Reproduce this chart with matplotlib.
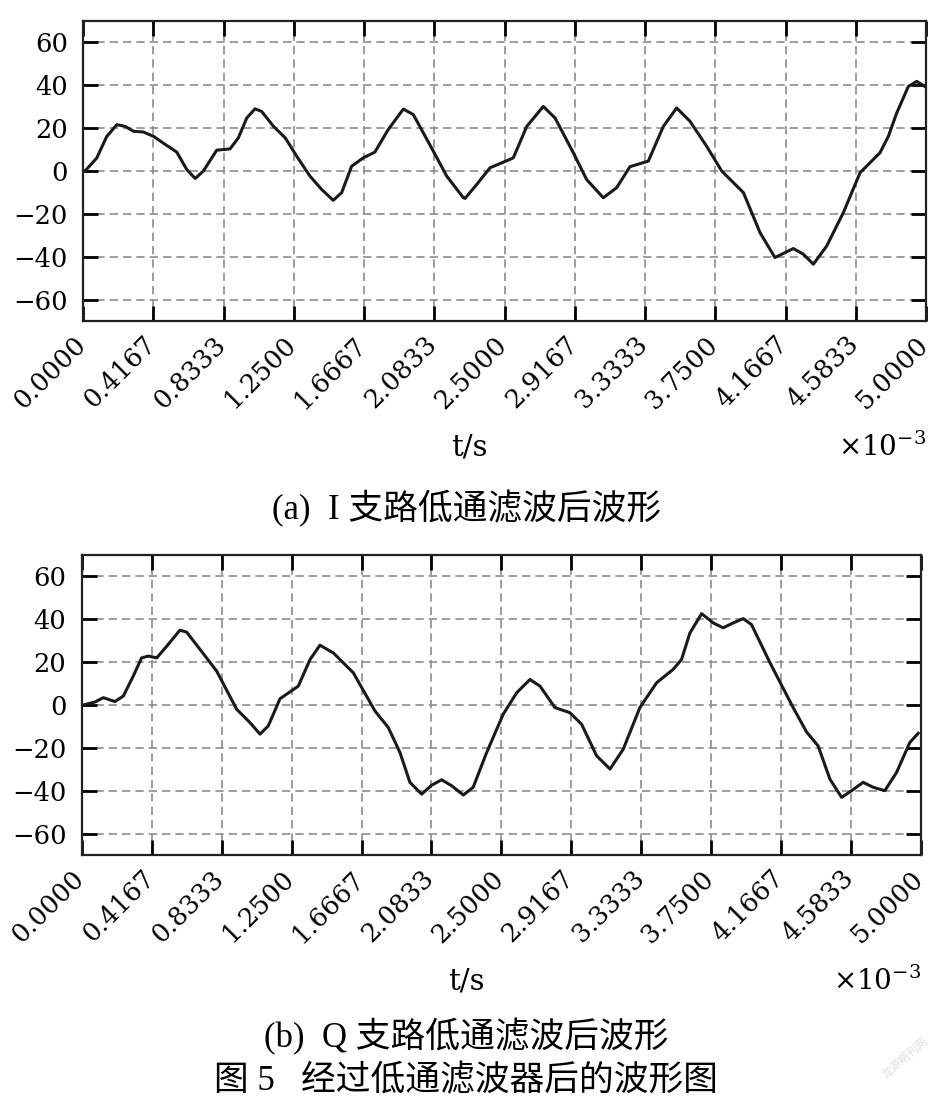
import matplotlib
matplotlib.use("Agg")
import matplotlib.pyplot as plt
from matplotlib.transforms import ScaledTranslation

plt.rcParams['font.family'] = ['DejaVu Serif', 'Noto Sans CJK SC', 'DejaVu Sans']
plt.rcParams['mathtext.fontset'] = 'dejavuserif'

# I branch (t in ms, amplitude)
t_i = [0.012, 0.081, 0.14, 0.2, 0.25, 0.30, 0.357, 0.417, 0.476, 0.556, 0.615, 0.665,
       0.714, 0.793, 0.872, 0.921, 0.971, 1.02, 1.059, 1.13, 1.2, 1.267, 1.346, 1.415,
       1.484, 1.534, 1.593, 1.662, 1.731, 1.81, 1.9, 1.959, 2.078, 2.157, 2.256, 2.266,
       2.335, 2.414, 2.493, 2.552, 2.632, 2.73, 2.8, 2.908, 2.987, 3.086, 3.165, 3.244,
       3.353, 3.442, 3.521, 3.6, 3.699, 3.788, 3.917, 4.015, 4.104, 4.213, 4.272, 4.332,
       4.411, 4.51, 4.609, 4.727, 4.777, 4.826, 4.895, 4.945, 4.994]
y_i = [0, 6, 16, 21.6, 20.8, 18.5, 18.2, 16.2, 13, 8.8, 0.7, -3.5,
       0, 9.7, 10.3, 15.4, 24.7, 29, 27.8, 20.8, 15.4, 6.9, -2.4, -8.6,
       -13.7, -10.1, 2.2, 6.1, 8.8, 19.3, 28.9, 26.3, 9.2, -2.4, -12.5, -12.8,
       -6.3, 1.5, 4.1, 6.1, 20.8, 30.1, 24.7, 8.5, -4, -12.5, -7.8, 2,
       4.6, 20.8, 29.4, 23.2, 11.5, 0, -10.1, -28.7, -40.4, -36.2, -38.8, -43.5,
       -35, -19.4, -0.8, 8.5, 16.2, 27, 39.4, 41.8, 39.4]

# Q branch
t_q = [0.01, 0.079, 0.129, 0.198, 0.248, 0.307, 0.357, 0.397, 0.447, 0.506, 0.585, 0.625,
       0.705, 0.804, 0.923, 1.002, 1.062, 1.111, 1.181, 1.29, 1.36, 1.419, 1.499, 1.618,
       1.747, 1.826, 1.896, 1.955, 2.025, 2.085, 2.144, 2.204, 2.273, 2.332, 2.412, 2.511,
       2.591, 2.67, 2.73, 2.819, 2.908, 2.978, 3.067, 3.147, 3.226, 3.325, 3.425, 3.523,
       3.573, 3.623, 3.693, 3.762, 3.821, 3.881, 3.941, 3.99, 4.1, 4.238, 4.318, 4.387,
       4.457, 4.527, 4.586, 4.655, 4.715, 4.784, 4.854, 4.933, 4.983]
y_q = [0, 1.4, 3.4, 1.6, 4.2, 13.5, 22, 22.8, 22, 27.4, 34.9, 34,
       25.9, 15.8, -2, -8.2, -13.6, -9.8, 2.9, 8.8, 21.2, 27.9, 24.3, 15,
       -2.8, -10.5, -22.2, -36.1, -41.6, -37.4, -34.9, -37.7, -42, -38.4, -22.2, -4.3,
       5.7, 11.9, 8.8, -1.2, -3.6, -9, -23.7, -29.9, -20.6, -1.2, 10.4, 16.6,
       21.2, 33.6, 42.6, 38.3, 36, 38.3, 40.3, 37.5, 19.7, -1.2, -12.6, -19.1,
       -34.6, -43.1, -40, -36.1, -38.4, -40, -31.5, -17.5, -13.2]

xticks = [0.0, 0.4167, 0.8333, 1.25, 1.6667, 2.0833, 2.5, 2.9167, 3.3333, 3.75,
          4.1667, 4.5833, 5.0]
yticks = [-60, -40, -20, 0, 20, 40, 60]

fig = plt.figure(figsize=(9.33, 11.2), dpi=100)
ax1 = fig.add_axes([0.089, 0.7134, 0.9035, 0.2679])
ax2 = fig.add_axes([0.0876, 0.2366, 0.8996, 0.2679])


def style(ax):
    ax.set_xlim(0, 5)
    ax.set_ylim(-70, 70)
    ax.set_xticks(xticks)
    ax.set_xticklabels(['%.4f' % v for v in xticks], rotation=45, ha='right',
                       va='center', rotation_mode='anchor')
    ax.set_yticks(yticks)
    ax.tick_params(direction='in', length=11, width=2, top=True, right=True,
                   labelsize=18.5, pad=11)
    ax.tick_params(axis='x', pad=14)
    ax.grid(True, color='#8c8c8c', linestyle=(0, (5, 3)), linewidth=1.2)
    for s in ax.spines.values():
        s.set_linewidth(1.6)
        s.set_color('#222222')
    ax.set_xlabel('t/s', fontsize=21, va='center')
    ax.xaxis.set_label_coords(0.458, -0.42)
    ax.text(1.0, -0.42, r'$\times10^{-3}$', transform=ax.transAxes, ha='right',
            va='center', fontsize=20)
    for lab in ax.get_xticklabels():
        lab.set_transform(lab.get_transform() +
                          ScaledTranslation(-1 / 72, 0, fig.dpi_scale_trans))


ax1.plot(t_i, y_i, color='#1a1a1a', lw=2.2)
ax2.plot(t_q, y_q, color='#1a1a1a', lw=2.2)
style(ax1)
style(ax2)

cap = ['Noto Sans CJK SC', 'DejaVu Sans']
fig.text(0.5, 1 - 509 / 1120, '(a)  I 支路低通滤波后波形', ha='center', va='center',
         fontsize=25, family=['Liberation Serif'] + cap)
fig.text(0.5, 1 - 1037 / 1120, '(b)  Q 支路低通滤波后波形', ha='center', va='center',
         fontsize=25, family=['Liberation Serif'] + cap)
fig.text(0.5, 1 - 1082 / 1120, '图 5   经过低通滤波器后的波形图', ha='center', va='center',
         fontsize=25, family=['Liberation Serif'] + cap)
fig.text(0.97, 1 - 1058 / 1120, '龙源期刊网', ha='center', va='center', fontsize=8,
         rotation=40, color='#dddddd', family=cap)

fig.savefig('out.png', dpi=100)
